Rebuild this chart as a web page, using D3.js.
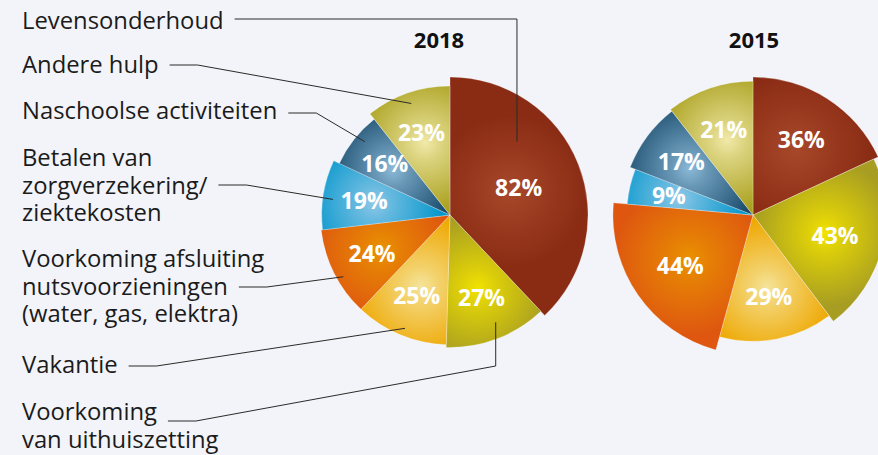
<!DOCTYPE html>
<html>
<head>
<meta charset="utf-8">
<script src="https://cdn.jsdelivr.net/npm/d3@7"></script>
<style>
  body { margin: 0; background: #f3f4f9; }
  svg { display: block; font-family: "Open Sans", sans-serif; }
</style>
</head>
<body>
<div class="container"></div>
<script>
// categories, clockwise from 12 o'clock (same order in both years)
const categories = [
  "Levensonderhoud",
  "Voorkoming|van uithuiszetting",
  "Vakantie",
  "Voorkoming afsluiting|nutsvoorzieningen|(water, gas, elektra)",
  "Betalen van|zorgverzekering/|ziektekosten",
  "Naschoolse activiteiten",
  "Andere hulp"
];
const years = ["2018", "2015"];
const values2018 = [82, 27, 25, 24, 19, 16, 23];
const values2015 = [36, 43, 29, 44, 9, 17, 21];
// how far each wedge sticks out, relative to the 2018 Levensonderhoud wedge
const reach2018 = [1.00, 0.96, 0.94, 0.94, 0.93, 0.885, 0.935];
const reach2015 = [1.00, 0.965, 0.915, 1.015, 0.915, 0.955, 0.97];

// colours: [centre, edge] of the shaded wedge
const colors = [
  ["#a9492b", "#8a2c14"],
  ["#f2e300", "#a79d22"],
  ["#f5e49c", "#eea700"],
  ["#ea9200", "#de5610"],
  ["#90c8e7", "#0095cb"],
  ["#8cb9d8", "#184a6b"],
  ["#f1e9a8", "#a89f1c"]
];

const W = 878, H = 455;
const svg = d3.select(".container").append("svg")
    .attr("width", W)
    .attr("height", H);
svg.append("rect").attr("width", W).attr("height", H).attr("fill", "#f3f4f9");
const defs = svg.append("defs");

const pie = d3.pie().sort(null).value(d => d.value);
const radius = d3.scaleLinear().domain([0, 1]).range([0, 138]);
const arc = d3.arc().innerRadius(0).outerRadius(d => d.r);

const charts = [
  {year: years[0], values: values2018, reach: reach2018, cx: 450, cy: 215, tx: 439},
  {year: years[1], values: values2015, reach: reach2015, cx: 753, cy: 215, tx: 754}
];

charts.forEach((c, ci) => {
  const arcs = pie(c.values.map((v, i) => ({value: v, reach: c.reach[i], cat: i})));
  arcs.forEach(a => {
    a.r = radius(a.data.reach);
    const half = (a.endAngle - a.startAngle) / 2;
    a.mid = a.startAngle + half;
    // sector centroid, nudged out a little
    a.lr = a.r * 2 * Math.sin(half) / (3 * half) * 1.03;
    a.lx = a.lr * Math.sin(a.mid);
    a.ly = -a.lr * Math.cos(a.mid);
  });
  c.arcs = arcs;

  const grads = defs.selectAll(null)
    .data(arcs)
    .enter()
    .append("radialGradient")
    .attr("id", (d, i) => `grad${ci}_${i}`)
    .attr("gradientUnits", "userSpaceOnUse")
    .attr("cx", d => d.lx * 0.88)
    .attr("cy", d => d.ly * 0.88)
    .attr("r", d => d.r * 0.55);
  grads.append("stop").attr("offset", "0%").attr("stop-color", d => colors[d.data.cat][0]);
  grads.append("stop").attr("offset", "25%")
    .attr("stop-color", d => d3.interpolateRgb(colors[d.data.cat][0], colors[d.data.cat][1])(0.3));
  grads.append("stop").attr("offset", "100%").attr("stop-color", d => colors[d.data.cat][1]);

  const g = svg.append("g").attr("transform", `translate(${c.cx},${c.cy})`);
  c.g = g;

  g.selectAll("path")
    .data(arcs)
    .enter()
    .append("path")
    .attr("d", arc)
    .attr("fill", (d, i) => `url(#grad${ci}_${i})`)
    .attr("stroke", "rgba(255,255,255,0.35)")
    .attr("stroke-width", 0.8);

  g.selectAll("text.pct")
    .data(arcs)
    .enter()
    .append("text")
    .attr("class", "pct")
    .attr("x", d => d.lx)
    .attr("y", d => d.ly)
    .attr("dy", "0.36em")
    .attr("text-anchor", "middle")
    .attr("fill", "#fff")
    .attr("font-size", "23px")
    .attr("font-weight", 700)
    .text(d => d.data.value + "%");

  svg.append("text")
    .attr("x", c.tx)
    .attr("y", 48)
    .attr("text-anchor", "middle")
    .attr("font-size", "22px")
    .attr("font-weight", 700)
    .attr("fill", "#111")
    .text(c.year);
});

// category labels with leader lines into the 2018 pie
// y: first baseline, line: which text line the leader leaves from, ly: leader height,
// t/k: where the leader ends inside the wedge (angle fraction, radius fraction), kind: path shape
const labelLayout = [
  {y: 29,  line: 0, ly: 19,  t: 0.31, k: 0.72,  kind: "down"},
  {y: 420, line: 0, ly: 421, t: 0.45, k: 0.88,  kind: "up", elbowY: 366},
  {y: 373, line: 0, ly: 366, t: 0.48, k: 0.94,  kind: "diag"},
  {y: 267, line: 1, ly: 287, t: 0.415, k: 0.95, kind: "diag"},
  {y: 166, line: 1, ly: 185, t: 0.45, k: 0.92,  kind: "diag"},
  {y: 119, line: 0, ly: 113, t: 0.59, k: 0.92,  kind: "diag"},
  {y: 73,  line: 0, ly: 65,  t: 0.5,  k: 0.915, kind: "diag"}
];
const lineH = 27.5;
const main = charts[0];

categories.forEach((cat, i) => {
  const L = labelLayout[i];
  const lines = cat.split("|");
  const txt = svg.append("text")
    .attr("font-size", "23.8px")
    .attr("fill", "#1b1b1b");
  const spans = lines.map((s, j) => txt.append("tspan")
    .attr("x", 22)
    .attr("y", L.y + j * lineH)
    .text(s));
  const endX = 22 + spans[L.line].node().getComputedTextLength() + 11;

  const a = main.arcs[i];
  const ang = a.startAngle + (a.endAngle - a.startAngle) * L.t;
  const ax = main.cx + a.r * L.k * Math.sin(ang);
  const ay = main.cy - a.r * L.k * Math.cos(ang);

  let pts;
  if (L.kind === "down") {
    pts = [[endX, L.ly], [ax, L.ly], [ax, ay]];
  } else if (L.kind === "up") {
    pts = [[endX, L.ly], [endX + 28, L.ly], [ax, L.elbowY], [ax, ay]];
  } else {
    pts = [[endX, L.ly], [endX + 28, L.ly], [ax, ay]];
  }
  svg.append("path")
    .attr("d", d3.line()(pts))
    .attr("fill", "none")
    .attr("stroke", "#2a2a2a")
    .attr("stroke-width", 1);
});
</script>
</body>
</html>
